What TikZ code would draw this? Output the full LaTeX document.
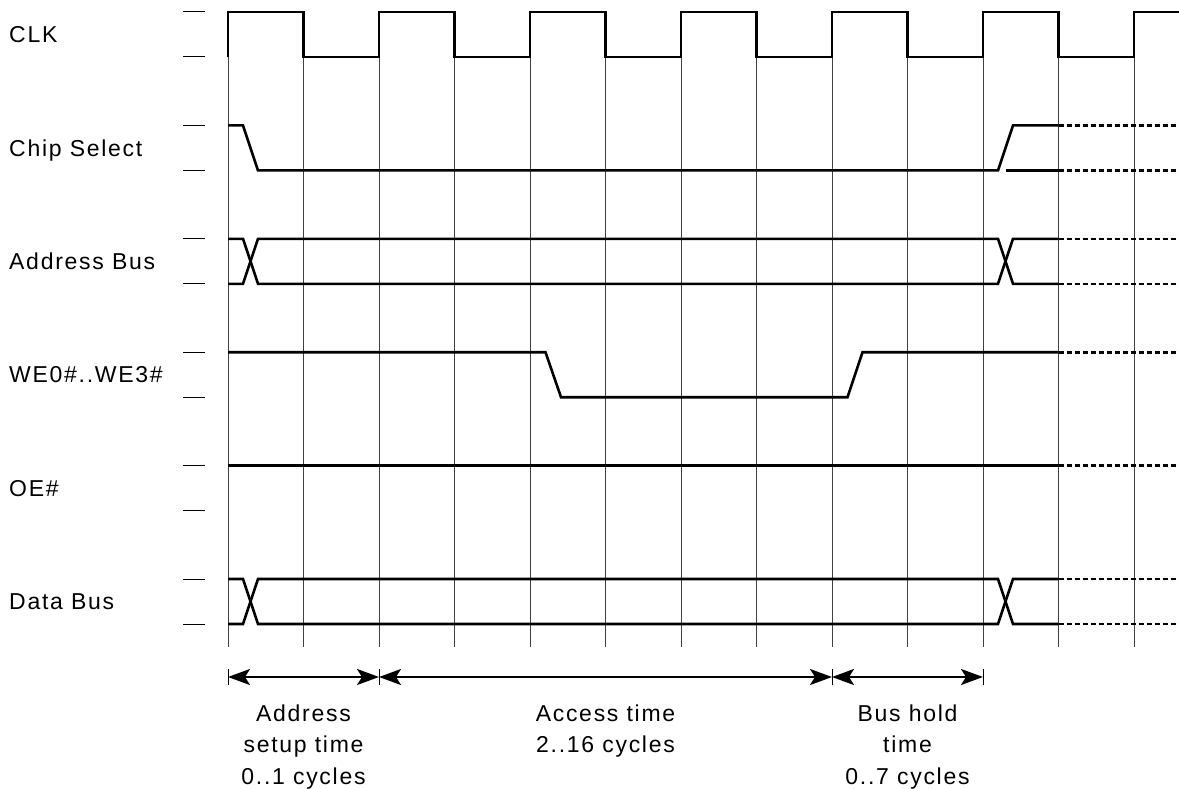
\documentclass[tikz,border=0pt]{standalone}
\usepackage{fontspec}
\setmainfont{Liberation Sans}[LetterSpace=7.5]
\usetikzlibrary{arrows.meta}
\begin{document}
\begin{tikzpicture}[x=1pt,y=-1pt,
  gridline/.style={line width=1pt,black!75},
  signal/.style={line width=2.6pt,line join=miter},
  cont/.style={line width=2.6pt,dash pattern=on 5.5pt off 2.5pt},
  lvltick/.style={line width=1pt},
  lbl/.style={anchor=base west,inner sep=0pt,font=\fontsize{23}{28}\selectfont},
  captext/.style={anchor=base,inner sep=0pt,font=\fontsize{23}{28}\selectfont},
  dim/.style={line width=2pt,{Stealth[length=22pt,width=16pt,inset=5pt]}-{Stealth[length=22pt,width=16pt,inset=5pt]}},
  dimtick/.style={line width=1pt}]
\useasboundingbox (0,0) rectangle (1179,789);

% grid lines
\foreach \i in {0,...,12}
  \draw[gridline] ({228+75.5*\i},57) -- ({228+75.5*\i},647);

% level ticks at left
\foreach \k in {0,...,5} {
  \draw[lvltick] (183,{12+113.4*\k}) -- (205,{12+113.4*\k});
  \draw[lvltick] (183,{57+113.4*\k}) -- (205,{57+113.4*\k});
}

% labels
\node[lbl] (lclk) at (9,42.75) {CLK};
\node[lbl] (lcs)  at (9,156.15) {Chip Select};
\node[lbl] (laddr) at (9,269.55) {Address Bus};
\node[lbl] (lwe)  at (9,382.95) {WE0\#..WE3\#};
\node[lbl] (loe)  at (9,496.35) {OE\#};
\node[lbl] (ldata) at (9,609.75) {Data Bus};

% CLK
\draw[signal] (228,57)
  \foreach \i in {0,2,...,10} {
    -- ({228+75.5*\i},12) -- ({228+75.5*(\i+1)},12)
    -- ({228+75.5*(\i+1)},57) -- ({228+75.5*(\i+2)},57) }
  -- (1134,12) -- (1179,12);

% Chip Select
\draw[signal] (228,125.4) -- (243,125.4) -- (258,170.4) -- (998,170.4) -- (1013,125.4) -- (1058.5,125.4);
\draw[signal] (1006,170.4) -- (1058.5,170.4);
\draw[cont] (1058.5,125.4) -- (1179,125.4);
\draw[cont] (1058.5,170.4) -- (1179,170.4);

% Address Bus
\draw[signal] (228,238.8) -- (243,238.8) -- (258,283.8) -- (998,283.8) -- (1013,238.8) -- (1058.5,238.8);
\draw[signal] (228,283.8) -- (243,283.8) -- (258,238.8) -- (998,238.8) -- (1013,283.8) -- (1058.5,283.8);
\draw[cont] (1058.5,238.8) -- (1179,238.8);
\draw[cont] (1058.5,283.8) -- (1179,283.8);

% WE
\draw[signal] (228,352.2) -- (545.5,352.2) -- (561,397.2) -- (847.5,397.2) -- (862.5,352.2) -- (1058.5,352.2);
\draw[cont] (1058.5,352.2) -- (1179,352.2);

% OE
\draw[signal] (228,465.6) -- (1058.5,465.6);
\draw[cont] (1058.5,465.6) -- (1179,465.6);

% Data Bus
\draw[signal] (228,579) -- (243,579) -- (258,624) -- (998,624) -- (1013,579) -- (1058.5,579);
\draw[signal] (228,624) -- (243,624) -- (258,579) -- (998,579) -- (1013,624) -- (1058.5,624);
\draw[cont] (1058.5,579) -- (1179,579);
\draw[cont] (1058.5,624) -- (1179,624);

% dimension arrows
\coordinate (a0) at (228,677);
\coordinate (a2) at (379,677);
\coordinate (a8) at (832,677);
\coordinate (a10) at (983,677);
\foreach \c in {a0,a2,a8,a10}
  \draw[dimtick] ([yshift=-8pt]\c) -- ([yshift=8pt]\c);
\draw[dim] (a0) -- (a2);
\draw[dim] (a2) -- (a8);
\draw[dim] (a8) -- (a10);

% captions
\node[captext] (c1a) at (303.5,721) {Address};
\node[captext] (c1b) at (303.5,752.5) {setup time};
\node[captext] (c1c) at (303.5,784) {0..1 cycles};
\node[captext] (c2a) at (605.5,721) {Access time};
\node[captext] (c2b) at (605.5,752.5) {2..16 cycles};
\node[captext] (c3a) at (907.5,721) {Bus hold};
\node[captext] (c3b) at (907.5,752.5) {time};
\node[captext] (c3c) at (907.5,784) {0..7 cycles};
\end{tikzpicture}
\end{document}
